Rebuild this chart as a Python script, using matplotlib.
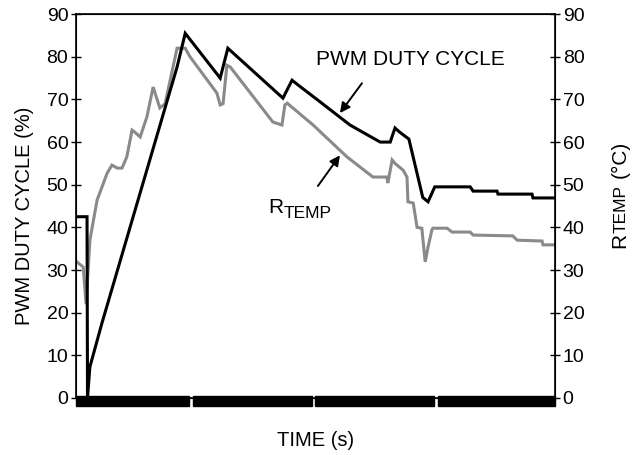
import matplotlib
matplotlib.use("Agg")
import matplotlib.pyplot as plt
from matplotlib.patches import Rectangle
import matplotlib.transforms as mtransforms

plt.rcParams['font.family'] = ['Liberation Sans', 'DejaVu Sans']

# PWM duty cycle trace (time in arbitrary units, 0..100)
pwm_t = [0.0, 2.3, 2.4, 2.9, 5.4, 21.1, 22.8, 30.1, 31.7, 43.2, 45.1, 46.8,
         50.3, 57.2, 63.5, 65.6, 66.6, 67.6, 69.5, 72.4, 73.5, 74.9, 82.3,
         82.9, 87.9, 88.1, 95.2, 95.4, 100.0]
pwm_v = [42.5, 42.5, 0.0, 7.3, 17.5, 77.6, 85.5, 75.0, 82.0, 70.3, 74.5, 73.0,
         70.0, 64.0, 60.0, 60.0, 63.3, 62.3, 60.7, 47.0, 46.0, 49.5, 49.5,
         48.5, 48.5, 47.8, 47.8, 46.9, 46.9]

# RTEMP trace
temp_t = [0.2, 1.5, 2.1, 2.9, 4.4, 6.5, 7.5, 8.6, 9.6, 10.6, 11.7, 12.3, 13.4,
          14.8, 16.1, 17.5, 18.6, 21.1, 22.8, 23.8, 29.4, 30.1, 30.7, 31.5,
          32.2, 41.1, 43.0, 43.6, 44.1, 49.5, 56.6, 62.0, 64.9, 65.1, 66.0,
          66.6, 68.3, 69.1, 69.3, 70.4, 71.2, 72.2, 72.9, 73.5, 74.3, 74.5,
          77.5, 78.5, 82.3, 82.9, 91.2, 92.1, 97.3, 97.5, 100.0]
temp_v = [31.9, 30.7, 22.0, 37.0, 46.4, 52.7, 54.6, 53.9, 53.9, 56.5, 62.8,
          62.3, 61.2, 65.9, 72.9, 68.0, 69.0, 82.0, 82.0, 80.0, 71.5, 68.7,
          69.0, 78.0, 77.6, 64.7, 64.0, 68.7, 69.1, 64.0, 56.5, 51.8, 51.8,
          50.4, 55.8, 55.0, 53.4, 51.8, 46.0, 45.7, 40.0, 39.8, 31.9, 35.4,
          39.4, 39.8, 39.8, 38.9, 38.9, 38.2, 38.0, 37.0, 36.8, 35.9, 35.9]

# time axis bar segments
bar_segments = [(0, 23.6), (24.4, 49.3), (49.9, 74.7), (75.6, 100)]

yticks = list(range(0, 91, 10))

fig = plt.figure(figsize=(6.35, 4.55), dpi=100)
ax = fig.add_axes([0.1197, 0.1253, 0.7543, 0.8437])

ax.plot(temp_t, temp_v, color='#8a8a8a', lw=2.2, solid_joinstyle='miter')
ax.plot(pwm_t, pwm_v, color='black', lw=2.2, solid_joinstyle='miter')

ax.set_xlim(0, 100)
ax.set_ylim(0, 90)
ax.set_xticks([])
ax.set_yticks(yticks)
ax.tick_params(axis='y', direction='inout', length=7, width=1, labelsize=14, pad=2)
for s in ax.spines.values():
    s.set_linewidth(1.2)

ax2 = ax.twinx()
ax2.set_ylim(0, 90)
ax2.set_yticks(yticks)
ax2.tick_params(axis='y', direction='inout', length=7, width=1, labelsize=14, pad=2)

trans = mtransforms.blended_transform_factory(ax.transData, ax.transAxes)
for x0, x1 in bar_segments:
    ax.add_patch(Rectangle((x0, -0.021), x1 - x0, 0.026, transform=trans,
                           color='black', clip_on=False, zorder=5))

ax.set_ylabel('PWM DUTY CYCLE (%)', fontsize=14.5)
ax.yaxis.set_label_coords(-0.088, 0.474)
ax.set_xlabel('TIME (s)', fontsize=14.5)
ax.xaxis.set_label_coords(0.5, -0.086)

# right axis label: R with a large subscript, then (°C)
r_lab = fig.text(620, 207, 'R', fontsize=15, rotation=90, ha='center', va='bottom',
                 transform=None)
t_lab = ax.annotate('TEMP', xy=(0.5, 1), xycoords=r_lab, xytext=(1, 0),
                    textcoords='offset pixels', fontsize=12.5, rotation=90,
                    ha='center', va='bottom', annotation_clip=False)
ax.annotate('(°C)', xy=(0.5, 1), xycoords=(r_lab, t_lab), xytext=(0, 7),
            textcoords='offset pixels', fontsize=15, rotation=90,
            ha='center', va='bottom', annotation_clip=False)

# in-plot labels and arrows
ax.text(69.9, 78.0, 'PWM DUTY CYCLE', fontsize=15, ha='center', va='baseline')
ax.annotate('', xy=(55.1, 66.8), xytext=(59.7, 73.8),
            arrowprops=dict(arrowstyle='-|>', color='black', lw=1.4,
                            mutation_scale=15, shrinkA=0, shrinkB=0))

r_in = ax.text(40.1, 43.4, 'R', fontsize=15, ha='left', va='baseline')
ax.annotate('TEMP', xy=(1, 0), xycoords=r_in, xytext=(0, -4),
            textcoords='offset pixels', fontsize=12.5, ha='left', va='bottom')
ax.annotate('', xy=(55.1, 56.9), xytext=(50.5, 49.7),
            arrowprops=dict(arrowstyle='-|>', color='black', lw=1.4,
                            mutation_scale=15, shrinkA=0, shrinkB=0))

fig.savefig('out.png', dpi=100)
